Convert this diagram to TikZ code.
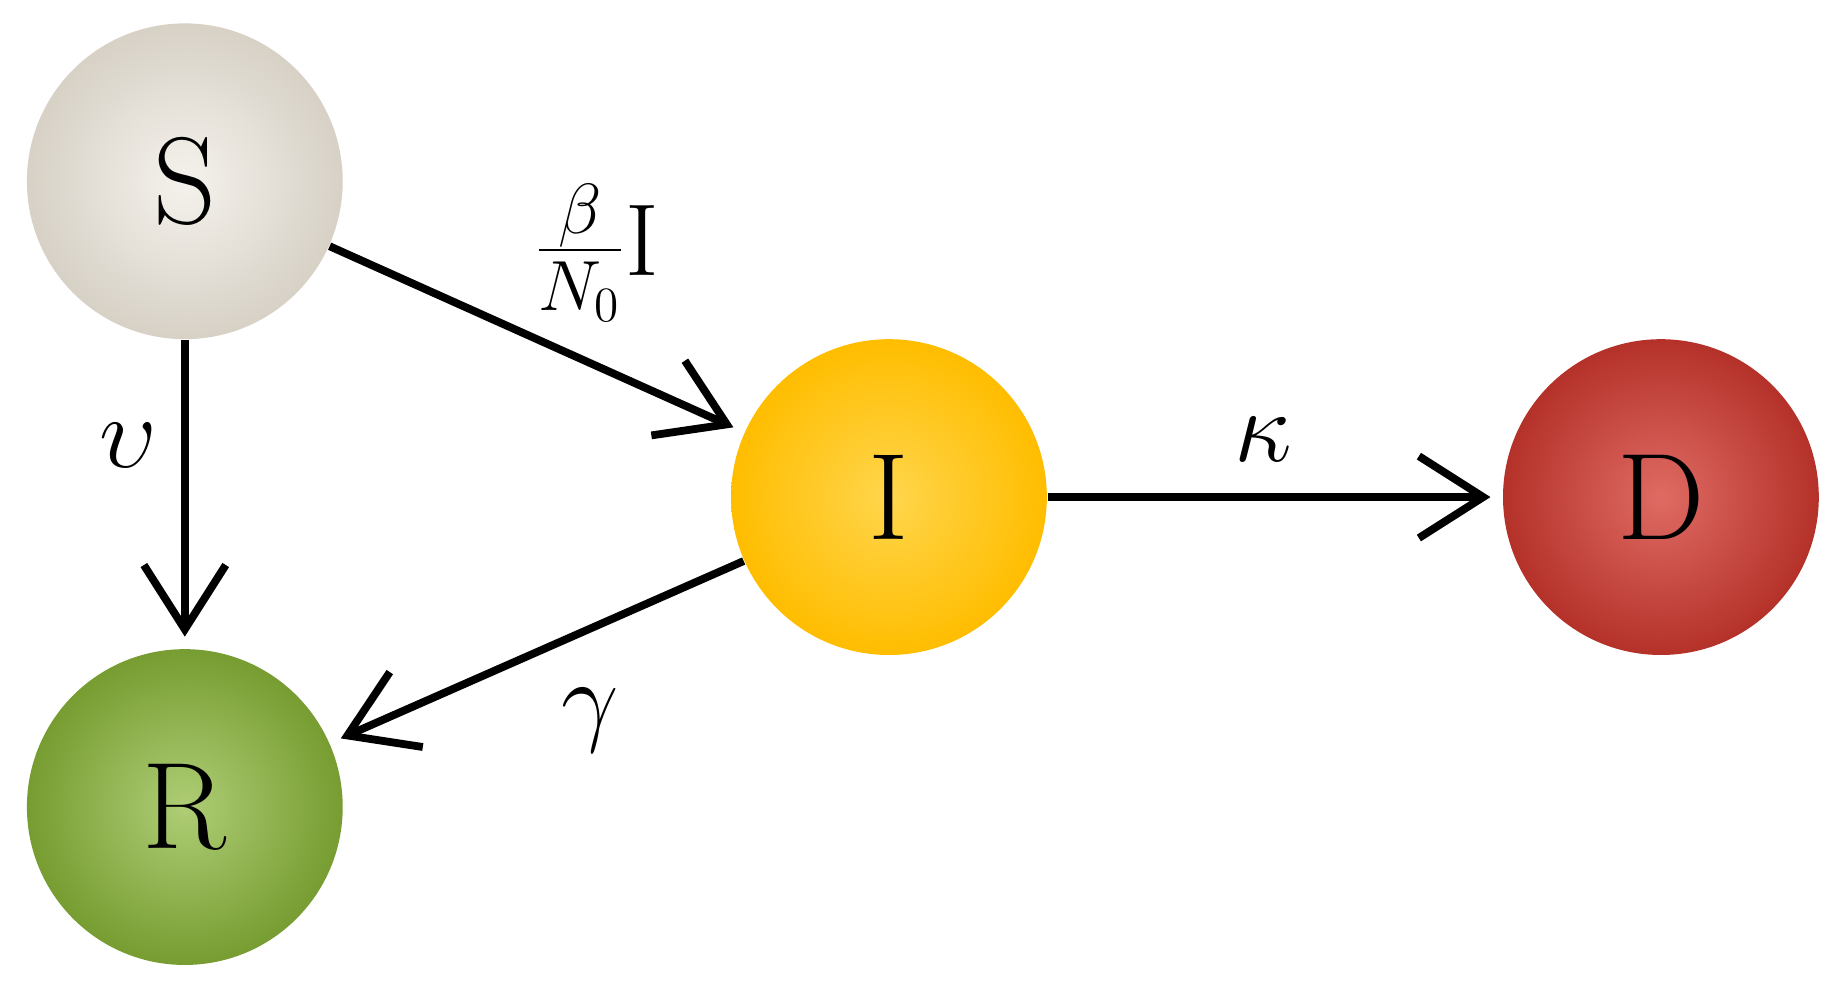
\documentclass[tikz,border=0pt]{standalone}
\usetikzlibrary{arrows.meta}
\definecolor{cS}{HTML}{E6DFD2}
\definecolor{cI}{HTML}{FFC400}
\definecolor{cD}{HTML}{D43A30}
\definecolor{cR}{HTML}{8CB83A}
\begin{document}
\begin{tikzpicture}[
  ball/.style={circle,minimum size=2.7cm,inner sep=0pt,font=\fontsize{30}{34}\selectfont},
  flow/.style={line width=1.9pt,-{Straight Barb[length=5.5mm,width=7mm,line width=1.9pt]},shorten >=1mm},
  lab/.style={font=\fontsize{26}{30}\selectfont}]
\useasboundingbox (0,0) rectangle (15.68,8.46);
\node[ball,inner color=cS!40!white,outer color=cS!85!gray] (S) at (1.58,6.91) {S};
\node[ball,inner color=cR!70!white,outer color=cR!85!black] (R) at (1.58,1.56) {R};
\node[ball,inner color=cI!70!white,outer color=cI!90!orange] (I) at (7.60,4.21) {I};
\node[ball,inner color=cD!75!white,outer color=cD!85!black] (D) at (14.20,4.21) {D};
\draw[flow] (S) -- (I);
\draw[flow] (S) -- (R);
\draw[flow] (I) -- (D);
\draw[flow] (I) -- (R);
\node[lab] (nu) at (1.10,4.65) {$\upsilon$};
\node[lab] (beta) at (5.10,6.30) {$\frac{\beta}{N_0}\mathrm{I}$};
\node[lab] (kappa) at (10.80,4.70) {$\kappa$};
\node[lab] (gamma) at (5.05,2.30) {$\gamma$};
\end{tikzpicture}
\end{document}
